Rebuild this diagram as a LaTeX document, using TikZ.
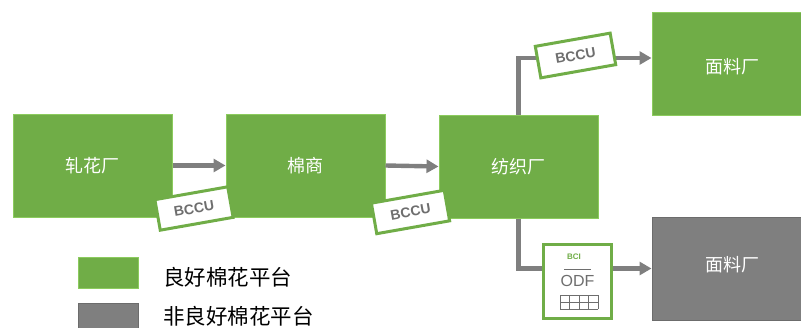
\documentclass[tikz,border=0pt]{standalone}
\usepackage{fontspec}
\setmainfont{Liberation Sans}
\newfontfamily\cjk{Noto Sans CJK SC}
\definecolor{cottongreen}{HTML}{70AD47}
\definecolor{edgegreen}{HTML}{8CCB5E}
\definecolor{flowgray}{HTML}{7F7F7F}
\definecolor{labelgray}{HTML}{6E6E6E}
\tikzset{
  plant/.style={draw=edgegreen,fill=cottongreen,line width=1pt,minimum width=159pt,minimum height=103pt,inner sep=0pt,text=white,font=\cjk\fontsize{18}{21}\selectfont},
  plantgray/.style={plant,draw=flowgray!85!black,fill=flowgray},
  plantlabel/.style={inner sep=0pt,text=white,font=\cjk\fontsize{18}{21}\selectfont},
  flow/.style={draw=flowgray,line width=4.4pt,-{Triangle[length=12pt,width=13pt]}},
  bccu/.style={draw=cottongreen,fill=white,line width=3pt,rotate=10,minimum width=74pt,minimum height=31pt,inner sep=0pt,text=labelgray,font=\fontsize{14}{16}\selectfont\bfseries},
  keybox/.style={line width=1pt,minimum width=60pt,minimum height=31pt,inner sep=0pt},
  keytext/.style={right,inner sep=0pt,font=\cjk\fontsize{21.5}{24}\selectfont}
}
\usetikzlibrary{arrows.meta}
\begin{document}
\begin{tikzpicture}[x=1pt,y=1pt]
  \useasboundingbox (0,0) rectangle (801,-327);
  \clip (0,0) rectangle (801,-327);

  \node[plant] (gin) at (92.5,-165.5) {轧花厂};
  \node[plant] (trader) at (305.5,-165.5) {棉商};
  \node[plant] (spinner) at (518.5,-166.5) {纺织厂};
  \node[plant,minimum width=160pt] (fabrictop) at (732,-63.5) {};
  \node[plantgray,minimum width=160pt] (fabricbot) at (732,-268.5) {};
  \node[plantlabel] (fabrictoptext) at ([yshift=-3.5pt]fabrictop.center) {面料厂};
  \node[plantlabel] (fabricbottext) at ([yshift=4pt]fabricbot.center) {面料厂};

  \draw[flow] (gin.east) -- (trader.west);
  \draw[flow] (trader.east) -- (spinner.west);
  \draw[flow] (spinner.north) |- ([yshift=5.5pt]fabrictop.west);
  \draw[flow] (spinner.south) |- (fabricbot.west);

  \node[bccu] (tagone) at (194,-208.5) {BCCU};
  \node[bccu] (tagtwo) at (410.5,-212) {BCCU};
  \node[bccu,minimum width=76pt,minimum height=32pt] (tagthree) at (575.5,-55.5) {BCCU};

  % order document
  \node[draw=cottongreen,fill=white,line width=3pt,minimum width=68pt,minimum height=74pt,inner sep=0pt] (odf) at (577,-281) {};
  \node[text=cottongreen,inner sep=0pt,font=\fontsize{8}{9}\selectfont\bfseries] (logo) at (574,-257) {BCI};
  \draw[labelgray,line width=0.8pt] (564,-269) -- (591,-269);
  \node[text=labelgray,inner sep=0pt,font=\fontsize{16}{18}\selectfont] (odflabel) at (577.5,-281) {ODF};
  \draw[labelgray,line width=0.7pt,xstep=9.5pt,ystep=7pt,shift={(560,-309)}] (0,0) grid (38,14);

  \node[keybox,draw=edgegreen,fill=cottongreen] (keygreen) at (108,-272.5) {};
  \node[keybox,draw=flowgray!85!black,fill=flowgray] (keygray) at (108,-318.5) {};
  \node[keytext] (keygreentext) at (163,-277) {良好棉花平台};
  \node[keytext] (keygraytext) at (163,-316) {非良好棉花平台};
\end{tikzpicture}
\end{document}
